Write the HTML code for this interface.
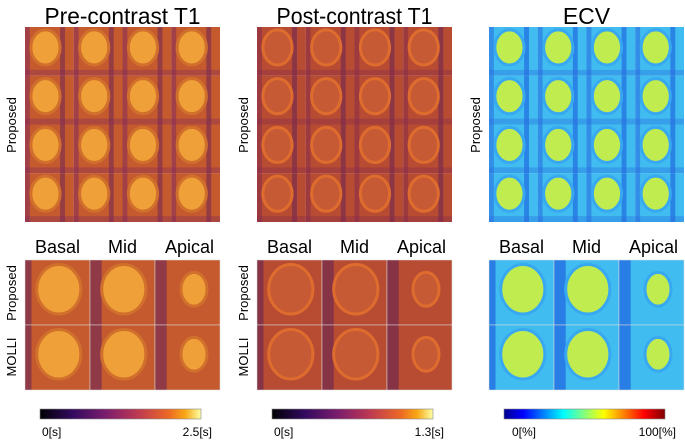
<!DOCTYPE html>
<html><head><meta charset="utf-8"><style>
html,body{margin:0;padding:0;background:#fff;}
svg{display:block;font-family:"Liberation Sans",sans-serif;}
</style></head><body>
<svg id="fig" width="685" height="441" viewBox="0 0 685 441">
<defs>
<linearGradient id="cbInferno" x1="0" x2="1" y1="0" y2="0">
<stop offset="0" stop-color="#000004"/><stop offset="0.2" stop-color="#320a5e"/><stop offset="0.4" stop-color="#781c6d"/><stop offset="0.6" stop-color="#bb3754"/><stop offset="0.8" stop-color="#ed6925"/><stop offset="0.9" stop-color="#f9a614"/><stop offset="1" stop-color="#fcffa4"/></linearGradient>
<linearGradient id="cbJet" x1="0" x2="1" y1="0" y2="0">
<stop offset="0" stop-color="#00008f"/><stop offset="0.12" stop-color="#0000ff"/><stop offset="0.37" stop-color="#00ffff"/><stop offset="0.62" stop-color="#ffff00"/><stop offset="0.87" stop-color="#ff0000"/><stop offset="1" stop-color="#800000"/></linearGradient>
</defs>
<g id="content"></g>
</svg>
<script>
const panelTitles = ["Pre-contrast T1","Post-contrast T1","ECV"];
const colLabels = ["Basal","Mid","Apical"];
const tickMin = ["0[s]","0[s]","0[%]"];
const tickMax = ["2.5[s]","1.3[s]","100[%]"];
const NS="http://www.w3.org/2000/svg";
const root=document.getElementById('content');
function mk(tag,attrs,parent){const e=document.createElementNS(NS,tag);for(const k in attrs)e.setAttribute(k,attrs[k]);(parent||root).appendChild(e);return e;}
const panelX=[25,257,489], panelW=195;
const palettes=[
 {bg:"#c55a2e",blob:"#f0a038",ring:"#d0702c",dark:"#5a1a5e",edge:"#8a2e58"},
 {bg:"#b84c32",blob:"#c55a34",ring:"#de6c2e",dark:"#561a5a",edge:"#8a2e4a"},
 {bg:"#40bcf0",blob:"#c0ec50",ring:"#38a8f0",dark:"#1040d8",edge:"#2a70e0"}];
panelTitles.forEach((t,p)=>{
  const x0=panelX[p], pal=palettes[p];
  const title=mk('text',{x:x0+panelW/2,y:24,'text-anchor':'middle','font-size':'23',textLength:p==2?'':'',});
  if(p<2){title.setAttribute('textLength','156');title.setAttribute('lengthAdjust','spacingAndGlyphs');}
  title.textContent=t;
  
  
  const g=mk('g',{});
  
  
  const cw=panelW/4, ch=195/4;
  for(let r=0;r<4;r++)for(let c=0;c<4;c++){
    const x=x0+c*cw,y=27+r*ch;
    mk('rect',{x:x,y:y,width:cw,height:ch,fill:pal.bg},g);
    mk('rect',{x:x,y:y,width:cw*0.1,height:ch,fill:pal.edge,opacity:0.6},g);
    mk('rect',{x:x+cw*0.72,y:y,width:cw*0.1,height:ch,fill:pal.dark,opacity:0.45},g);
    mk('rect',{x:x,y:y+ch*0.88,width:cw,height:ch*0.12,fill:pal.edge,opacity:0.4},g);
    mk('ellipse',{cx:x+cw*0.42,cy:y+ch*0.42,rx:cw*0.3,ry:ch*0.36,fill:pal.blob,stroke:pal.ring,'stroke-width':3},g);
  }
  const yl=mk('text',{transform:`translate(${x0-9},125) rotate(-90)`,'text-anchor':'middle','font-size':'13'});
  yl.textContent="Proposed";
  
  
  colLabels.forEach((l,i)=>{
    const tx=mk('text',{x:x0+panelW*(i+0.5)/3+(i==2?2:0),y:253,'text-anchor':'middle','font-size':'18'});
    tx.textContent=l;
    
    
  });
  const g2=mk('g',{});
  
  
  const bw=panelW/3, bh=65;
  for(let r=0;r<2;r++)for(let c=0;c<3;c++){
    const x=x0+c*bw,y=260+r*bh;
    mk('rect',{x:x,y:y,width:bw,height:bh,fill:pal.bg},g2);
    mk('rect',{x:x,y:y,width:bw*(c==0?0.1:0.18),height:bh,fill:pal.dark,opacity:0.5},g2);
    mk('ellipse',{cx:x+bw*(c==2?0.6:0.52),cy:y+bh*0.45,rx:bw*(c==2?0.2:0.34),ry:bh*(c==2?0.26:0.38),fill:pal.blob,stroke:pal.ring,'stroke-width':3},g2);
    mk('rect',{x:x,y:y,width:bw,height:bh,fill:'none',stroke:'#ddd','stroke-width':0.5},g2);
  }
  if(p<2){
  const l1=mk('text',{transform:`translate(${x0-9},293) rotate(-90)`,'text-anchor':'middle','font-size':'13'});
  l1.textContent="Proposed";
  
  
  const l2=mk('text',{transform:`translate(${x0-9},357) rotate(-90)`,'text-anchor':'middle','font-size':'13'});
  l2.textContent="MOLLI";
  
  
  }
  const cbx=x0+15, cbw=161;
  const cb=mk('rect',{x:cbx,y:409,width:cbw,height:10,fill:p==2?'url(#cbJet)':'url(#cbInferno)',stroke:'#888','stroke-width':0.6});
  
  
  const t0=mk('text',{x:cbx+(p==2?8:2),y:436,'text-anchor':'start','font-size':'12'});
  t0.textContent=tickMin[p];
  
  
  const t1=mk('text',{x:cbx+cbw+11,y:436,'text-anchor':'end','font-size':'12'});
  t1.textContent=tickMax[p];
  
  
});
</script>
</body></html>
